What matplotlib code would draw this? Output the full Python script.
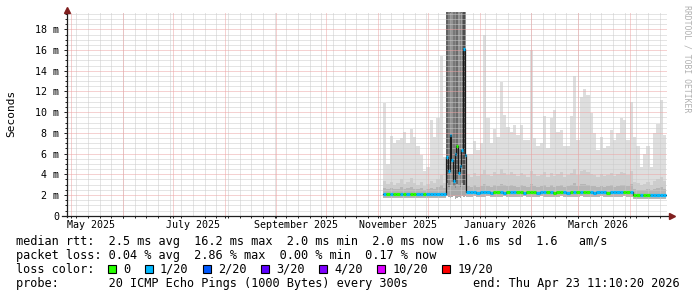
import numpy as np
import pandas as pd
import matplotlib
matplotlib.use('Agg')
import matplotlib.pyplot as plt
import matplotlib.dates as mdates
from matplotlib.patches import Rectangle
from matplotlib.ticker import FixedLocator, MultipleLocator, FuncFormatter

nan = np.nan

#  graph window: last 360 days up to the end stamp
end_time = pd.Timestamp('2026-04-23 11:10:20')
start_time = end_time - pd.Timedelta(days=360)

#  smoke / median data, 2 day bins from Nov 4 2025 (ms)
bin_first = '2025-11-04'
smoke_max = [
    10.9, 5.0, 7.7, 7.0, 7.3, 7.5, 8.1, 7.0, 8.4, 7.6,
    6.7, 5.9, 4.3, 4.7, 9.2, 7.6, 9.4, 15.4, 5.7, nan,
    nan, nan, nan, nan, nan, 6.0, 6.0, 7.2, 6.3, 7.0,
    17.5, 9.4, 7.0, 8.4, 7.6, 12.9, 9.7, 8.6, 8.1, 8.8,
    7.8, 8.8, 7.3, 7.3, 16.0, 7.5, 6.7, 7.0, 9.6, 6.5,
    9.4, 10.2, 8.1, 8.3, 6.7, 6.7, 9.6, 13.5, 7.3, 11.5,
    12.2, 11.7, 9.9, 8.0, 6.3, 7.6, 6.5, 6.7, 8.3, 7.3,
    8.0, 9.4, 9.2, 7.3, 11.0, 7.6, 6.7, 4.7, 6.0, 6.7,
    4.7, 8.0, 8.9, 11.2, 7.8]
smoke_upper = [
    3.4, 3.1, 3.3, 3.0, 3.2, 3.5, 3.1, 3.3, 3.6, 3.2,
    3.0, 3.3, 2.9, 3.1, 3.4, 3.2, 3.5, 3.9, 3.2, nan,
    nan, nan, nan, nan, nan, 3.9, 3.7, 4.1, 3.8, 4.0,
    4.4, 3.9, 3.8, 4.2, 4.0, 4.5, 4.1, 3.9, 4.2, 4.0,
    3.8, 4.1, 3.9, 3.7, 4.3, 4.0, 3.8, 3.9, 4.2, 3.7,
    4.1, 3.8, 4.0, 4.2, 3.7, 3.9, 4.1, 4.5, 3.9, 4.3,
    4.4, 4.2, 4.0, 3.9, 3.7, 4.0, 3.8, 3.9, 4.1, 3.8,
    4.0, 4.2, 4.1, 3.9, 4.3, 3.3, 3.2, 3.0, 3.1, 3.3,
    3.0, 3.4, 3.5, 3.7, 3.4]
smoke_inner = [
    2.7, 2.6, 2.7, 2.6, 2.6, 2.8, 2.6, 2.7, 2.8, 2.6,
    2.6, 2.7, 2.5, 2.6, 2.7, 2.6, 2.8, 3.0, 2.7, nan,
    nan, nan, nan, nan, nan, 2.9, 2.8, 3.0, 2.8, 2.9,
    3.1, 2.9, 2.8, 3.0, 2.9, 3.1, 3.0, 2.9, 3.0, 2.9,
    2.8, 3.0, 2.9, 2.8, 3.1, 2.9, 2.8, 2.9, 3.0, 2.8,
    3.0, 2.8, 2.9, 3.0, 2.8, 2.9, 3.0, 3.2, 2.9, 3.1,
    3.1, 3.0, 2.9, 2.9, 2.8, 2.9, 2.8, 2.9, 3.0, 2.8,
    2.9, 3.0, 3.0, 2.9, 3.1, 2.6, 2.5, 2.5, 2.5, 2.6,
    2.5, 2.6, 2.7, 2.8, 2.6]
smoke_min = [
    1.70, 1.72, 1.68, 1.70, 1.71, 1.69, 1.70, 1.72, 1.70, 1.68,
    1.70, 1.71, 1.69, 1.70, 1.72, 1.70, 1.69, 1.71, 1.70, nan,
    nan, nan, nan, nan, nan, 1.85, 1.84, 1.86, 1.83, 1.85,
    1.84, 1.86, 1.85, 1.83, 1.84, 1.85, 1.86, 1.84, 1.85, 1.83,
    1.84, 1.85, 1.86, 1.84, 1.83, 1.85, 1.84, 1.86, 1.85, 1.84,
    1.83, 1.85, 1.84, 1.86, 1.85, 1.84, 1.83, 1.85, 1.84, 1.86,
    1.85, 1.84, 1.85, 1.83, 1.84, 1.86, 1.85, 1.84, 1.85, 1.83,
    1.84, 1.85, 1.86, 1.84, 1.85, 1.62, 1.61, 1.63, 1.62, 1.60,
    1.62, 1.61, 1.63, 1.62, 1.61]
median = [
    2.10, 2.08, 2.12, 2.09, 2.10, 2.11, 2.08, 2.10, 2.12, 2.09,
    2.10, 2.08, 2.09, 2.10, 2.11, 2.12, 2.10, 2.13, 2.10, nan,
    nan, nan, nan, nan, nan, 2.26, 2.25, 2.27, 2.24, 2.26,
    2.28, 2.25, 2.24, 2.27, 2.25, 2.26, 2.24, 2.25, 2.27, 2.26,
    2.25, 2.27, 2.24, 2.26, 2.28, 2.25, 2.24, 2.26, 2.27, 2.25,
    2.26, 2.24, 2.25, 2.27, 2.25, 2.24, 2.26, 2.28, 2.25, 2.27,
    2.28, 2.26, 2.25, 2.24, 2.26, 2.30, 2.25, 2.24, 2.26, 2.25,
    2.26, 2.27, 2.33, 2.28, 2.25, 2.00, 1.99, 2.01, 1.98, 2.00,
    2.02, 1.99, 2.00, 2.01, 2.00]
loss = [
    1, 0, 1, 0, 0, 1, 0, 1, 0, 0,
    1, 1, 0, 1, 1, 1, 1, 1, 1, 1,
    1, 1, 1, 1, 1, 1, 1, 1, 1, 1,
    1, 1, 1, 0, 0, 1, 1, 0, 1, 1,
    0, 0, 1, 0, 0, 0, 1, 1, 1, 0,
    1, 0, 0, 0, 1, 1, 0, 1, 0, 1,
    0, 0, 1, 1, 1, 1, 1, 0, 1, 1,
    1, 1, 0, 0, 1, 0, 0, 1, 0, 0,
    1, 1, 1, 1, 1]

#  the outage in december, daily values
spike_first = '2025-12-12'
spike_median = [5.7, 4.3, 7.8, 5.4, 3.4, 6.0, 6.7, 4.1, 4.8, 6.3, 16.1, 5.9]
spike_loss = [1, 1, 1, 1, 1, 1, 0, 1, 1, 1, 1, 1]
spike_lo = [1.9, 1.8, 1.7, 1.8, 1.9, 1.6, 1.7, 1.8, 1.7, 1.9, 1.8, 1.9]
spike_base = [3.2, 2.8, 3.0, 3.3, 2.9, 2.7, 3.1, 3.0, 2.8, 3.2, 3.0, 2.9]
spike_gray = [0.38, 0.50, 0.44, 0.58, 0.47, 0.54, 0.42, 0.60, 0.50, 0.45, 0.30, 0.56]

#  loss legend
loss_steps = [0, 1, 2, 3, 4, 10, 19]
loss_labels = ['0', '1/20', '2/20', '3/20', '4/20', '10/20', '19/20']
loss_colors = ['#26ff00', '#00b8ff', '#0059ff', '#5e00ff', '#7e00ff', '#dd00ff', '#ff0000']

legend_rtt = 'median rtt:  2.5 ms avg  16.2 ms max  2.0 ms min  2.0 ms now  1.6 ms sd  1.6   am/s'
legend_loss = 'packet loss: 0.04 % avg  2.86 % max  0.00 % min  0.17 % now'
legend_probe = 'probe:       20 ICMP Echo Pings (1000 Bytes) every 300s'
legend_end = 'end: Thu Apr 23 11:10:20 2026'


def loss_color(n):
    c = loss_colors[0]
    for s, col in zip(loss_steps, loss_colors):
        if n >= s:
            c = col
    return c


plt.rcParams['font.family'] = ['DejaVu Sans Mono']

W, H = 697, 297
fig = plt.figure(figsize=(W/100, H/100), dpi=100)
fig.patch.set_facecolor('white')


def fx(x):
    return x/W


def fy(y):
    return 1 - y/H


y_top, y_zero = 12.3, 215.7
ax = fig.add_axes([fx(67), fy(y_zero), 600/W, (y_zero-y_top)/H])
ax.set_facecolor('white')

t_bins = mdates.date2num(pd.date_range(bin_first, periods=len(median), freq='2D'))
t_spike = mdates.date2num(pd.date_range(spike_first, periods=len(spike_median), freq='D'))

smoke_max = np.array(smoke_max)
smoke_upper = np.array(smoke_upper)
smoke_inner = np.array(smoke_inner)
smoke_min = np.array(smoke_min)
median = np.array(median)

#  smoke layers
bar_kw = dict(width=2, align='edge', linewidth=0, antialiased=False)
ax.bar(t_bins, smoke_max-smoke_min, bottom=smoke_min, color='#dedede', zorder=1, **bar_kw)
ax.bar(t_bins, smoke_upper-smoke_min, bottom=smoke_min, color='#cdcdcd', zorder=1, **bar_kw)
ax.bar(t_bins, smoke_inner-smoke_min, bottom=smoke_min, color='#b6b6b6', zorder=1, **bar_kw)

spike_lo = np.array(spike_lo)
ax.bar(t_spike, 40-spike_lo, bottom=spike_lo, width=1, align='edge', linewidth=0,
       antialiased=False, color=[str(g) for g in spike_gray], zorder=1)
ax.bar(t_spike, np.array(spike_base)-spike_lo, bottom=spike_lo, width=1, align='edge',
       linewidth=0, antialiased=False, color='#a8a8a8', zorder=1)

#  grid, dotted
grid_kw = dict(lw=0.72, ls=(0, (1, 1)), zorder=2)
grid_minor = '#cbcbcb'
grid_major = '#eda4a4'
for d in pd.date_range('2025-05-04', '2026-04-20', freq='7D'):
    ax.axvline(mdates.date2num(d), color=grid_minor, **grid_kw)
for v in np.arange(0.5, 19.6, 0.5):
    if v % 2:
        ax.axhline(v, color=grid_minor, **grid_kw)
month_starts = pd.date_range('2025-05-01', '2026-04-01', freq='MS')
for d in month_starts:
    ax.axvline(mdates.date2num(d), color=grid_major, **grid_kw)
for v in range(2, 20, 2):
    ax.axhline(v, color=grid_major, **grid_kw)

#  median: thin dark line plus loss coloured segments
line_t = np.concatenate([t_bins[:19], t_spike, t_bins[25:], [t_bins[-1]+2]])
line_v = np.concatenate([median[:19], spike_median, median[25:], [median[-1]]])
ax.step(line_t, line_v, where='post', color='#1a1a1a', lw=0.9, zorder=4)

ok = ~np.isnan(median)
ax.hlines(median[ok], t_bins[ok], t_bins[ok]+2,
          colors=[loss_color(n) for n in np.array(loss)[ok]], lw=2.3, zorder=5)
ax.hlines(spike_median, t_spike, t_spike+1,
          colors=[loss_color(n) for n in spike_loss], lw=2.3, zorder=5)

#  axes
ax.set_xlim(mdates.date2num(start_time), mdates.date2num(end_time))
ax.set_ylim(0, 19.65)
for s in ax.spines.values():
    s.set_visible(False)
ax.plot([-0.008, 1.006], [0, 0], transform=ax.transAxes, clip_on=False, color='#1f1f1f', lw=0.9, zorder=6)
ax.plot([0, 0], [-0.005, 1.01], transform=ax.transAxes, clip_on=False, color='#1f1f1f', lw=0.9, zorder=6)
ax.plot([1.008], [0], marker='>', ms=4.5, color='#801f1f', transform=ax.transAxes, clip_on=False, zorder=7)
ax.plot([0], [1.012], marker='^', ms=4.5, color='#801f1f', transform=ax.transAxes, clip_on=False, zorder=7)

ax.yaxis.set_major_locator(MultipleLocator(2))
ax.yaxis.set_minor_locator(MultipleLocator(0.5))
ax.yaxis.set_major_formatter(FuncFormatter(lambda v, p: '0' if v == 0 else '%d m' % v))

ax.xaxis.set_major_locator(mdates.MonthLocator(bymonth=[1, 3, 5, 7, 9, 11], bymonthday=13))
ax.xaxis.set_major_formatter(mdates.DateFormatter('%B %Y'))
week_ticks = pd.date_range('2025-05-04', '2026-04-20', freq='7D').append(month_starts)
ax.xaxis.set_minor_locator(FixedLocator(mdates.date2num(week_ticks)))

ax.tick_params(axis='both', which='both', direction='out', color='#1f1f1f', width=0.7,
               labelsize=7.2, labelcolor='black')
ax.tick_params(axis='y', which='major', length=2.2, pad=3.4)
ax.tick_params(axis='y', which='minor', length=1.5)
ax.tick_params(axis='x', which='major', length=0, pad=3.2)
ax.tick_params(axis='x', which='minor', length=1.5)

fig.text(fx(11), fy(113.5), 'Seconds', rotation=90, ha='center', va='center', fontsize=8)
fig.text(fx(687), fy(5), 'RRDTOOL / TOBI OETIKER', rotation=270, ha='center', va='top',
         fontsize=5.9, color='#b0b0b0')

#  legend
fs = 8.55
cw = 7.15
fig.text(fx(16), fy(241.7), legend_rtt, ha='left', va='center', fontsize=fs)
fig.text(fx(16), fy(255.7), legend_loss, ha='left', va='center', fontsize=fs)
fig.text(fx(16), fy(269.3), 'loss color:', ha='left', va='center', fontsize=fs)
fig.text(fx(16), fy(283.3), legend_probe, ha='left', va='center', fontsize=fs)
fig.text(fx(680), fy(283.3), legend_end, ha='right', va='center', fontsize=fs)

x = 108.0
for lab, col in zip(loss_labels, loss_colors):
    fig.add_artist(Rectangle((fx(x), fy(273.2)), 8/W, 8/H, transform=fig.transFigure,
                             facecolor=col, edgecolor='black', lw=0.8))
    fig.text(fx(x+15), fy(269.3), lab, ha='left', va='center', fontsize=fs)
    x += 15 + len(lab)*cw + 14.5

fig.savefig('out.png', dpi=100)
